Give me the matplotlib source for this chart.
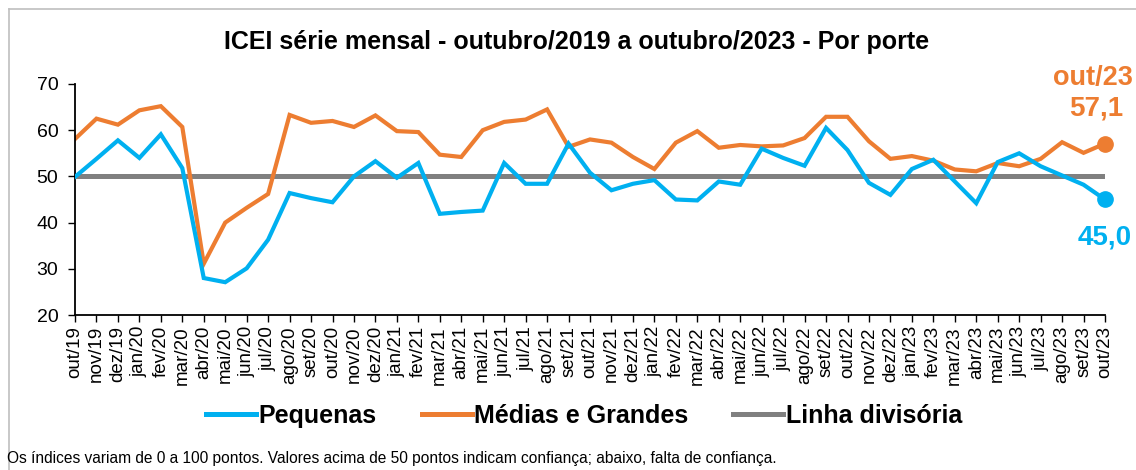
import matplotlib
matplotlib.use("Agg")
import matplotlib.pyplot as plt
from matplotlib.lines import Line2D

plt.rcParams['font.family'] = ['Liberation Sans', 'DejaVu Sans']

months = ["out/19", "nov/19", "dez/19", "jan/20", "fev/20", "mar/20", "abr/20", "mai/20",
          "jun/20", "jul/20", "ago/20", "set/20", "out/20", "nov/20", "dez/20", "jan/21",
          "fev/21", "mar/21", "abr/21", "mai/21", "jun/21", "jul/21", "ago/21", "set/21",
          "out/21", "nov/21", "dez/21", "jan/22", "fev/22", "mar/22", "abr/22", "mai/22",
          "jun/22", "jul/22", "ago/22", "set/22", "out/22", "nov/22", "dez/22", "jan/23",
          "fev/23", "mar/23", "abr/23", "mai/23", "jun/23", "jul/23", "ago/23", "set/23",
          "out/23"]

pequenas = [49.9, 53.8, 57.8, 54.0, 59.1, 51.8, 28.0, 27.1, 30.1, 36.3, 46.4, 45.3,
            44.4, 50.0, 53.3, 49.7, 52.9, 41.9, 42.3, 42.6, 52.9, 48.4, 48.4, 57.1,
            50.8, 47.0, 48.4, 49.2, 45.0, 44.8, 48.9, 48.2, 56.0, 54.0, 52.3, 60.5,
            55.7, 48.6, 46.0, 51.6, 53.6, 48.9, 44.2, 53.1, 55.0, 52.2, 50.2, 48.2,
            45.0]

medias_grandes = [58.1, 62.5, 61.2, 64.3, 65.2, 60.7, 31.1, 40.0, 43.2, 46.2, 63.3, 61.6,
                  62.0, 60.7, 63.2, 59.8, 59.6, 54.7, 54.2, 60.0, 61.8, 62.3, 64.5, 56.4,
                  58.0, 57.3, 54.2, 51.6, 57.3, 59.8, 56.2, 56.8, 56.5, 56.7, 58.3, 62.9,
                  62.9, 57.6, 53.8, 54.4, 53.4, 51.5, 51.1, 52.9, 52.2, 53.8, 57.4, 55.1,
                  57.1]

divisoria = [50] * len(months)

title = "ICEI série mensal - outubro/2019 a outubro/2023 - Por porte"
labels = ["Pequenas", "Médias e Grandes", "Linha divisória"]
footnote = ("Os índices variam de 0 a 100 pontos. Valores acima de 50 pontos indicam "
            "confiança; abaixo, falta de confiança.")

BLUE = "#00B0F0"
ORANGE = "#ED7D31"
GRAY = "#808080"

W, H = 1136, 470
fig = plt.figure(figsize=(W / 100, H / 100), dpi=100)
ax = fig.add_axes([75 / W, 1 - 315 / H, (1105 - 75) / W, (315 - 84) / H])

x = list(range(len(months)))
ax.plot(x, divisoria, color=GRAY, lw=3.6, solid_capstyle='butt', zorder=1)
ax.plot(x, pequenas, color=BLUE, lw=3.0, solid_joinstyle='miter', zorder=3)
ax.plot(x, medias_grandes, color=ORANGE, lw=3.0, solid_joinstyle='miter', zorder=2)
ax.plot([x[-1]], [pequenas[-1]], 'o', color=BLUE, ms=11, clip_on=False, zorder=4)
ax.plot([x[-1]], [medias_grandes[-1]], 'o', color=ORANGE, ms=11, clip_on=False, zorder=4)

ax.set_xlim(0, len(months) - 1)
ax.set_ylim(20, 70)
ax.set_yticks([20, 30, 40, 50, 60, 70])
ax.set_xticks(x)
ax.set_xticklabels(months, rotation=90, fontsize=13.5)
ax.tick_params(axis='y', labelsize=14, length=5, width=1, pad=7)
ax.tick_params(axis='x', length=5, width=1, pad=3)
for s in ['top', 'right']:
    ax.spines[s].set_visible(False)
for s in ['left', 'bottom']:
    ax.spines[s].set_linewidth(1.3)
ax.set_facecolor('none')

fmt = lambda v: f"{v:.1f}".replace('.', ',')
ax.annotate(months[-1], xy=(x[-1], medias_grandes[-1]), xytext=(28, 66), textcoords='offset pixels',
            ha='right', va='center', color=ORANGE, fontsize=19.5, fontweight='bold', annotation_clip=False)
ax.annotate(fmt(medias_grandes[-1]), xy=(x[-1], medias_grandes[-1]), xytext=(-9, 35), textcoords='offset pixels',
            ha='center', va='center', color=ORANGE, fontsize=20, fontweight='bold', annotation_clip=False)
ax.annotate(fmt(pequenas[-1]), xy=(x[-1], pequenas[-1]), xytext=(0, -38), textcoords='offset pixels',
            ha='center', va='center', color=BLUE, fontsize=20, fontweight='bold', annotation_clip=False)

fig.text(577 / W, 1 - 42 / H, title, ha='center', va='center', fontsize=18, fontweight='bold')

handles = [Line2D([], [], color=BLUE, lw=3.6),
           Line2D([], [], color=ORANGE, lw=3.6),
           Line2D([], [], color=GRAY, lw=3.6)]
fig.legend(handles, labels, loc='center', bbox_to_anchor=(584 / W, 1 - 416 / H), ncol=3,
           frameon=False, prop={'weight': 'bold', 'size': 18}, handlelength=2.0,
           handletextpad=0.1, columnspacing=1.8)

fig.text(7 / W, 1 - 459 / H, footnote, ha='left', va='center', fontsize=11.2)

# outer frame (top and left edges visible)
fig.add_artist(Line2D([9 / W, 1], [1 - 9 / H, 1 - 9 / H], color='#BFBFBF', lw=1.2))
fig.add_artist(Line2D([9 / W, 9 / W], [0, 1 - 9 / H], color='#BFBFBF', lw=1.2))

fig.savefig("out.png", dpi=100)
